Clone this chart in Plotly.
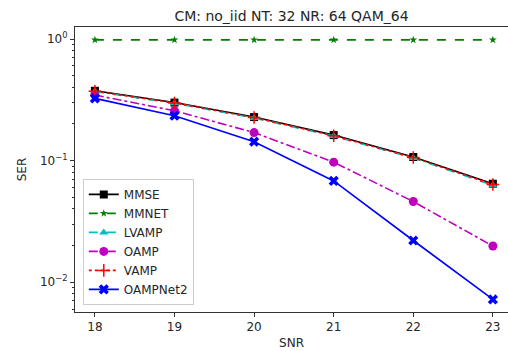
import numpy as np
import plotly.graph_objects as go

snr = [18, 19, 20, 21, 22, 23]
mmse = [0.375, 0.300, 0.228, 0.162, 0.107, 0.0645]
mmnet = [0.985, 0.985, 0.985, 0.985, 0.985, 0.985]
lvamp = [0.370, 0.296, 0.224, 0.159, 0.105, 0.0625]
oamp = [0.346, 0.257, 0.170, 0.097, 0.046, 0.0198]
vamp = [0.372, 0.298, 0.226, 0.160, 0.106, 0.0635]
oampnet2 = [0.325, 0.234, 0.143, 0.068, 0.022, 0.0072]

title_text = "CM: no_iid NT: 32 NR: 64 QAM_64"
y_tickvals = [1, 0.1, 0.01]
y_ticktext = ["10<sup>0</sup>", "10<sup>−1</sup>", "10<sup>−2</sup>"]

series = [
    ("MMSE", mmse, "#000000", "solid", "square", 8),
    ("MMNET", mmnet, "#008000", "dash", "star", 6),
    ("LVAMP", lvamp, "#00bfbf", "dash", "triangle-up", 8),
    ("OAMP", oamp, "#bf00bf", "dashdot", "circle", 9),
    ("VAMP", vamp, "#ff0000", "dot", "cross-thin", 9),
    ("OAMPNet2", oampnet2, "#0000ff", "solid", "x", 9),
]

fig = go.Figure()
for name, vals, color, dash, sym, size in series:
    marker = dict(symbol=sym, size=size, color=color)
    if sym == "cross-thin":
        marker["line"] = dict(color=color, width=1.5)
    else:
        marker["line"] = dict(width=0)
    fig.add_trace(go.Scatter(
        x=snr, y=vals, name=name, mode="lines+markers",
        line=dict(color=color, dash=dash, width=1.6),
        marker=marker,
    ))

minor_vals = []
for d in [0.001, 0.01, 0.1, 1]:
    for k in range(2, 10):
        minor_vals.append(d * k)

fig.update_layout(
    width=508, height=351,
    margin=dict(l=75, r=0, t=27, b=39, autoexpand=False),
    plot_bgcolor="white", paper_bgcolor="white",
    font=dict(family="DejaVu Sans", size=12, color="#262626"),
    title=dict(text=title_text, xref="paper", x=0.5, xanchor="center",
               yref="container", y=0.955, yanchor="middle",
               font=dict(size=14, color="#262626")),
    showlegend=True,
    legend=dict(x=0.018, y=0.025, xanchor="left", yanchor="bottom",
                bgcolor="rgba(255,255,255,0.85)", bordercolor="#cccccc", borderwidth=1,
                font=dict(size=12), itemwidth=30, tracegroupgap=0),
    xaxis=dict(range=[17.75, 23.19], tickvals=snr, showgrid=False, zeroline=False,
               showline=True, linecolor="#333333", linewidth=1, mirror=True,
               ticks="outside", ticklen=4, tickcolor="#333333", automargin=False,
               title=dict(text="SNR", standoff=5, font=dict(size=12))),
    yaxis=dict(type="log", range=[-2.246, 0.099], tickvals=y_tickvals, ticktext=y_ticktext,
               showgrid=False, zeroline=False, showline=True, linecolor="#333333", linewidth=1,
               ticks="outside", ticklen=4, tickcolor="#333333", automargin=False,
               minor=dict(tickvals=minor_vals, ticks="outside", ticklen=2, tickcolor="#333333", showgrid=False),
               title=dict(text="SER", standoff=10, font=dict(size=12))),
)

fig.write_html("out.html", config={"displayModeBar": False},
               post_script="document.body.style.margin='0';document.body.style.overflow='hidden';")
